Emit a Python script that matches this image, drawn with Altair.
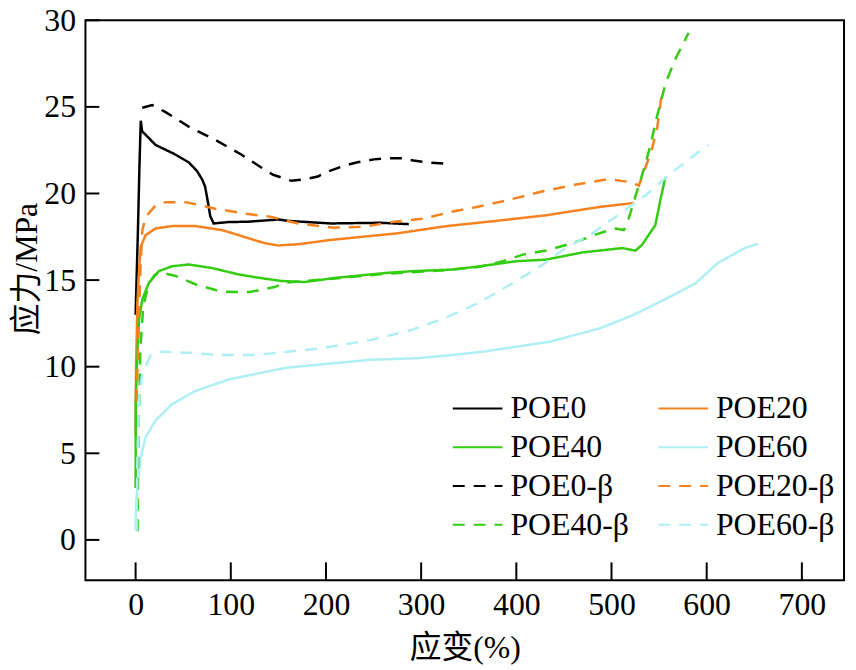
import altair as alt
import pandas as pd

# ---- data ----
series_names = ["POE0", "POE20", "POE40", "POE60", "POE0-β", "POE20-β", "POE40-β", "POE60-β"]
series_colors = ["#000000", "#F5821E", "#33CC11", "#AEEFF5", "#000000", "#F5821E", "#33CC11", "#AEEFF5"]
series_dashed = [False, False, False, False, True, True, True, True]
# legend is filled column by column: this order gives rows POE0|POE20, POE40|POE60, ...
legend_order = ["POE0", "POE40", "POE0-β", "POE40-β", "POE20", "POE60", "POE20-β", "POE60-β"]

poe0_x = [0, 1, 2.5, 4, 5.4, 6.8, 21, 40, 55.8, 64.5, 70, 73, 76, 78.4, 82, 97.5, 118, 150, 160, 205, 257, 287]
poe0_y = [13, 15, 18, 21.5, 24.2, 23.6, 22.8, 22.3, 21.8, 21.3, 20.8, 20.4, 19.5, 18.7, 18.27, 18.35, 18.37, 18.5, 18.42, 18.27, 18.31, 18.23]

poe0b_x = [7, 17.5, 31.5, 55.8, 83.7, 111, 132, 144.5, 163.6, 175.8, 191.4, 202, 219, 233, 250.6, 262.7, 280, 292, 309.6, 325]
poe0b_y = [24.95, 25.1, 24.7, 23.86, 23.1, 22.25, 21.5, 21.08, 20.73, 20.8, 20.98, 21.27, 21.6, 21.8, 21.97, 22.03, 22.03, 21.9, 21.78, 21.72]

poe20_x = [0, 0.5, 1.9, 3.65, 5.4, 10.6, 21, 38.4, 62.8, 90.5, 108, 118.4, 135.8, 149.7, 170.6, 205.3, 240, 275, 327, 379, 431, 487, 523.5]
poe20_y = [6, 10, 13.7, 15.6, 16.94, 17.6, 17.98, 18.12, 18.12, 17.89, 17.6, 17.42, 17.13, 17.0, 17.07, 17.32, 17.51, 17.7, 18.12, 18.42, 18.74, 19.22, 19.45]

poe20b_x = [1, 3, 5, 7.1, 10.6, 21, 31.5, 52.4, 64.5, 83.7, 115, 142.7, 170.6, 208.8, 240, 271.4, 302.7, 330.5, 358.3, 389.6, 428, 466, 497.4, 521.8, 528.7, 535.7, 542.7, 548, 551.3, 553]
poe20b_y = [8, 12, 15.5, 17.9, 18.65, 19.31, 19.5, 19.5, 19.37, 19.12, 18.84, 18.65, 18.27, 18.02, 18.08, 18.37, 18.55, 18.93, 19.22, 19.6, 20.13, 20.55, 20.83, 20.64, 20.45, 21.5, 22.6, 23.8, 25.1, 25.95]

poe40_x = [0, 0.2, 1.9, 3.65, 7.1, 14, 24.5, 38.4, 55.8, 80, 108, 128.8, 153, 177.5, 212, 264.4, 292.3, 334, 361.8, 400, 431, 469.6, 511.4, 525.2, 532, 546, 551.3, 556.5]
poe40_y = [3, 8.2, 10.9, 12.77, 13.9, 14.85, 15.52, 15.8, 15.9, 15.7, 15.33, 15.14, 14.95, 14.89, 15.14, 15.42, 15.52, 15.61, 15.8, 16.09, 16.18, 16.6, 16.85, 16.7, 17.03, 18.17, 19.6, 20.93]

poe40b_x = [2, 3, 5, 8, 14, 20, 28, 42, 62.8, 90.5, 120, 146, 158, 200, 260, 320, 360, 386, 407, 431.4, 459, 487, 504.4, 513, 518, 527, 534, 541, 548, 557, 567, 581]
poe40b_y = [0.5, 6, 11, 13.5, 14.8, 15.3, 15.42, 15.24, 14.76, 14.33, 14.31, 14.6, 14.85, 15.05, 15.35, 15.55, 15.75, 16.09, 16.47, 16.71, 17.13, 17.7, 17.98, 17.89, 18.55, 20.17, 21.4, 22.8, 24.5, 26.4, 27.75, 29.27]

poe60_x = [0, 0.5, 1.9, 5.4, 10.6, 21, 38.4, 62.8, 97.5, 150, 160, 247, 295.7, 334, 365.3, 434.8, 487, 521.8, 556.5, 588, 612, 640, 654]
poe60_y = [0.6, 2.0, 3.1, 4.8, 5.94, 6.9, 7.84, 8.6, 9.26, 9.85, 9.95, 10.4, 10.49, 10.68, 10.87, 11.44, 12.2, 12.96, 13.9, 14.8, 16.0, 16.85, 17.1]

poe60b_x = [1, 2, 4, 7.1, 15.9, 27.6, 52.4, 90.5, 122, 142.7, 195, 247, 288.8, 323.6, 361.8, 400, 428, 449, 480, 536, 563, 588, 602]
poe60b_y = [0.5, 5, 8.5, 9.6, 10.68, 10.87, 10.81, 10.68, 10.68, 10.77, 11.06, 11.54, 12.1, 12.77, 13.72, 14.95, 15.9, 16.75, 17.7, 19.9, 21.2, 22.25, 22.8]

x_ticks = [0, 100, 200, 300, 400, 500, 600, 700]
y_ticks = [0, 5, 10, 15, 20, 25, 30]

# ---- build table ----
all_xy = {
    "POE0": (poe0_x, poe0_y), "POE20": (poe20_x, poe20_y),
    "POE40": (poe40_x, poe40_y), "POE60": (poe60_x, poe60_y),
    "POE0-β": (poe0b_x, poe0b_y), "POE20-β": (poe20b_x, poe20b_y),
    "POE40-β": (poe40b_x, poe40b_y), "POE60-β": (poe60b_x, poe60b_y),
}
rows = []
for name in series_names:
    xs, ys = all_xy[name]
    for i, (a, b) in enumerate(zip(xs, ys)):
        rows.append({"series": name, "x": a, "y": b, "ord": i})
df = pd.DataFrame(rows)

color_of = dict(zip(series_names, series_colors))
dash_of = dict(zip(series_names, series_dashed))
legend_colors = [color_of[n] for n in legend_order]
legend_dashes = [[12, 9] if dash_of[n] else [1, 0] for n in legend_order]

FONT = "Times New Roman, Liberation Serif, Noto Sans CJK SC, serif"
W, H = 764, 564

x_scale = alt.Scale(domain=[-52.7, 744.3], nice=False, zero=False)
y_scale = alt.Scale(domain=[-2.33, 30], nice=False, zero=False)

leg = dict(title=None, orient="none", legendX=369, legendY=372,
           columns=2, symbolType="M-1,0H1", symbolSize=2500,
           symbolStrokeWidth=2, labelFontSize=32, labelFont=FONT,
           labelColor="black", labelOffset=7, rowPadding=1, clipHeight=38,
           columnPadding=28, padding=0)

lines = alt.Chart(df).mark_line(strokeWidth=2.5, clip=True).encode(
    x=alt.X("x:Q", scale=x_scale,
            axis=alt.Axis(values=x_ticks, ticks=False, domain=False, grid=False,
                          labelFontSize=32, labelFont=FONT, labelColor="black", labelPadding=9,
                          title="应变(%)", titleFont=FONT, titleFontSize=32, titleFontWeight="normal",
                          titleColor="black", titleY=68, titleBaseline="middle")),
    y=alt.Y("y:Q", scale=y_scale,
            axis=alt.Axis(values=y_ticks, ticks=False, domain=False, grid=False,
                          labelFontSize=32, labelFont=FONT, labelColor="black", labelPadding=10,
                          title="应力/MPa", titleFont=FONT, titleFontSize=32, titleFontWeight="normal",
                          titleColor="black", titleX=-59, titleY=250, titleAngle=-90,
                          titleBaseline="middle", titleAlign="center")),
    color=alt.Color("series:N", scale=alt.Scale(domain=legend_order, range=legend_colors),
                    legend=alt.Legend(**leg)),
    strokeDash=alt.StrokeDash("series:N", scale=alt.Scale(domain=legend_order, range=legend_dashes),
                              legend=alt.Legend(**leg)),
    order="ord:Q",
)

xt = pd.DataFrame({"v": x_ticks})
yt = pd.DataFrame({"v": y_ticks})
x_tick_rules = alt.Chart(xt).mark_rule(color="black", strokeWidth=2).encode(
    x=alt.X("v:Q", scale=x_scale), y=alt.value(H), y2=alt.value(H - 18))
y_tick_rules = alt.Chart(yt).mark_rule(color="black", strokeWidth=2).encode(
    y=alt.Y("v:Q", scale=y_scale), x=alt.value(0), x2=alt.value(14))

chart = alt.layer(lines, x_tick_rules, y_tick_rules).properties(
    width=W, height=H,
    background="white",
    autosize=alt.AutoSizeParams(type="none"),
    padding={"left": 78, "top": 10, "right": 4, "bottom": 88},
).configure_view(stroke="black", strokeWidth=2)

chart.save("out.html", embed_options={"renderer": "svg", "actions": False})
